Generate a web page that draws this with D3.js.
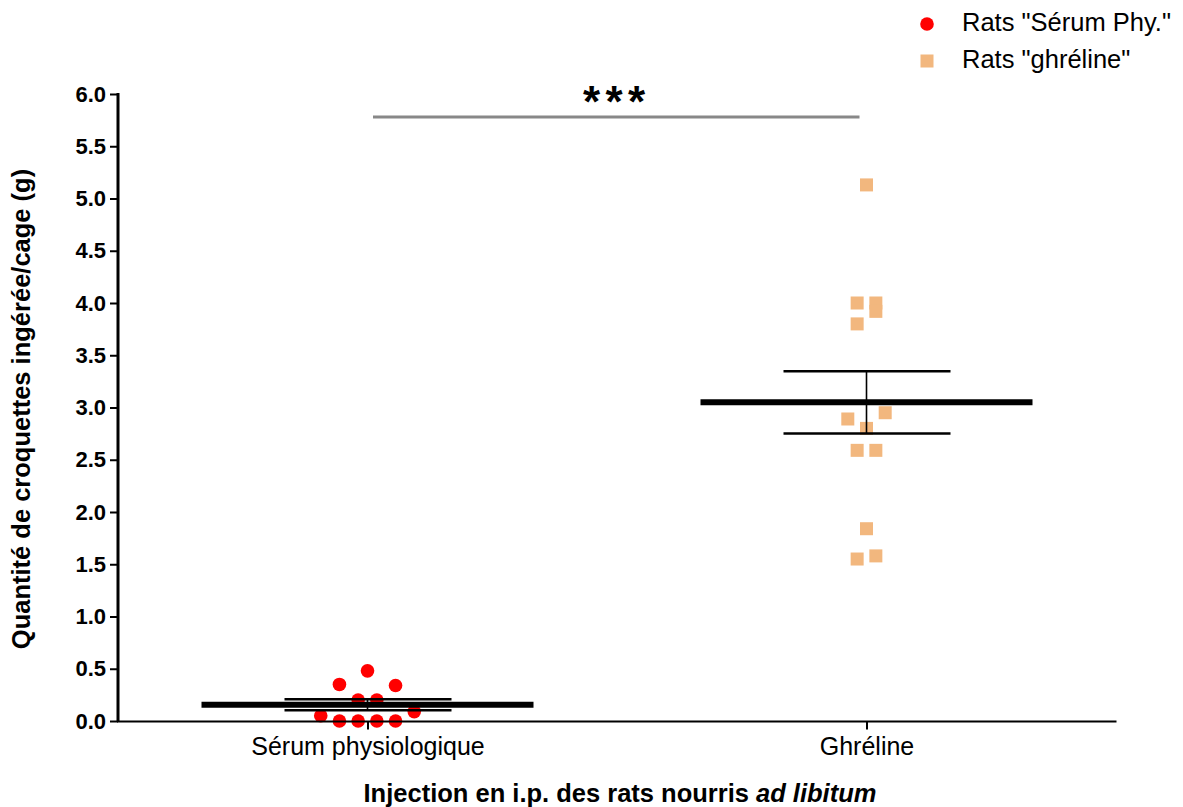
<!DOCTYPE html>
<html>
<head>
<meta charset="utf-8">
<script src="https://cdn.jsdelivr.net/npm/d3@7"></script>
<style>
  html, body { margin: 0; padding: 0; background: #fff; }
  svg { display: block; font-family: "Liberation Sans", Arial, sans-serif; }
</style>
</head>
<body>
<svg id="chart" width="1183" height="807"></svg>
<script>
// ---- data ----
const categories = ["Sérum physiologique", "Ghréline"];
const serumValues = [0.48, 0.35, 0.34, 0.20, 0.20, 0.05, 0.09, 0, 0, 0, 0];
const serumJitter = [0, -3, 3, -1, 1, -5, 5, -3, -1, 1, 3];
const ghrelineValues = [5.13, 4.00, 4.00, 3.92, 3.80, 2.95, 2.89, 2.80, 2.59, 2.59, 1.84, 1.58, 1.55];
const ghrelineJitter = [0, -1, 1, 1, -1, 2, -2, 0, -1, 1, 0, 1, -1];
const yTicks = [0, 0.5, 1, 1.5, 2, 2.5, 3, 3.5, 4, 4.5, 5, 5.5, 6];
const legendLabels = ['Rats "Sérum Phy."', 'Rats "ghréline"'];
const significance = "***";
const sigLevel = 5.78;

const svg = d3.select("#chart");
const x = d3.scalePoint().domain(categories).range([118, 1116]).padding(0.5);
const y = d3.scaleLinear().domain([0, 6]).range([721, 94]);
const jit = d3.scaleLinear().domain([-1, 1]).range([-9.35, 9.35]);

const red = "#ff0000", orange = "#f2b77e";

// ---- points ----
const serumPts = serumValues.map((v, i) => ({ v, j: serumJitter[i] }));
const ghrPts = ghrelineValues.map((v, i) => ({ v, j: ghrelineJitter[i] }));

svg.append("g").selectAll("circle").data(serumPts).join("circle")
  .attr("cx", d => x(categories[0]) + jit(d.j))
  .attr("cy", d => y(d.v))
  .attr("r", 6.8)
  .attr("fill", red);

const sq = 13;
svg.append("g").selectAll("rect").data(ghrPts).join("rect")
  .attr("x", d => x(categories[1]) + jit(d.j) - sq / 2)
  .attr("y", d => y(d.v) - sq / 2)
  .attr("width", sq).attr("height", sq)
  .attr("fill", orange);

// ---- mean & SEM ----
function stats(arr) {
  const m = d3.mean(arr);
  const sem = d3.deviation(arr) / Math.sqrt(arr.length);
  return { m, sem };
}
[[categories[0], serumValues], [categories[1], ghrelineValues]].forEach(([cat, vals]) => {
  const { m, sem } = stats(vals);
  const cx = x(cat);
  const g = svg.append("g").attr("stroke", "#000");
  g.append("line").attr("x1", cx).attr("x2", cx)
    .attr("y1", y(m + sem)).attr("y2", y(m - sem)).attr("stroke-width", 1.6);
  [m + sem, m - sem].forEach(v => {
    g.append("line").attr("x1", cx - 83).attr("x2", cx + 84)
      .attr("y1", y(v)).attr("y2", y(v)).attr("stroke-width", 2.5);
  });
  g.append("line").attr("x1", cx - 166).attr("x2", cx + 166)
    .attr("y1", y(m)).attr("y2", y(m)).attr("stroke-width", 6);
});

// ---- axes ----
const yAxis = svg.append("g").attr("transform", "translate(118,0)")
  .call(d3.axisLeft(y).tickValues(yTicks).tickFormat(d3.format(".1f")).tickSize(8).tickPadding(4));
yAxis.select(".domain").attr("stroke", "#000").attr("stroke-width", 3)
  .attr("d", `M0,${y(6) - 1}V${y(0) + 1}`);
yAxis.selectAll(".tick line").attr("stroke", "#000").attr("stroke-width", 2);
yAxis.selectAll(".tick text")
  .attr("font-size", 22).attr("font-weight", "bold").attr("fill", "#000")
  .attr("font-family", "Liberation Sans, Arial, sans-serif");

const xAxis = svg.append("g").attr("transform", "translate(0,721.5)")
  .call(d3.axisBottom(x).tickSize(8).tickPadding(8));
xAxis.select(".domain").attr("stroke", "#000").attr("stroke-width", 2.2)
  .attr("d", "M117,0H1116.5");
xAxis.selectAll(".tick line").attr("stroke", "#000").attr("stroke-width", 2);
xAxis.selectAll(".tick text")
  .attr("font-size", 25).attr("fill", "#000")
  .attr("font-family", "Liberation Sans, Arial, sans-serif");

// ---- axis titles ----
svg.append("text")
  .attr("transform", "translate(30,409) rotate(-90)")
  .attr("text-anchor", "middle")
  .attr("font-size", 25.5).attr("font-weight", "bold")
  .text("Quantité de croquettes ingérée/cage (g)");

const xt = svg.append("text")
  .attr("x", 620).attr("y", 802)
  .attr("text-anchor", "middle")
  .attr("font-size", 25.5).attr("font-weight", "bold");
xt.append("tspan").text("Injection en i.p. des rats nourris ");
xt.append("tspan").attr("font-style", "italic").text("ad libitum");

// ---- significance ----
const sx1 = x(categories[0]) + 5.5, sx2 = x(categories[1]) - 7;
svg.append("line").attr("x1", sx1).attr("x2", sx2)
  .attr("y1", y(sigLevel)).attr("y2", y(sigLevel))
  .attr("stroke", "#888").attr("stroke-width", 3);
svg.append("text")
  .attr("x", 583).attr("y", 117)
  .attr("font-size", 44).attr("font-weight", "bold")
  .attr("textLength", 62).attr("lengthAdjust", "spacing")
  .text(significance);

// ---- legend ----
const lg = svg.append("g");
lg.append("circle").attr("cx", 927).attr("cy", 24).attr("r", 6.8).attr("fill", red);
lg.append("rect").attr("x", 927 - 6.5).attr("y", 61 - 6.5).attr("width", 13).attr("height", 13).attr("fill", orange);
legendLabels.forEach((t, i) => {
  lg.append("text").attr("x", 962).attr("y", 31 + i * 37)
    .attr("font-size", 25.5).attr("fill", "#000").text(t);
});
</script>
</body>
</html>
